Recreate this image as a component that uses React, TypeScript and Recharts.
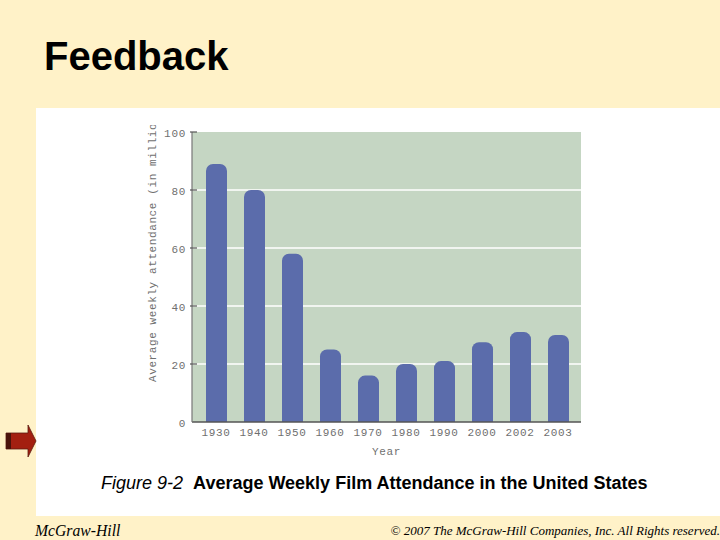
import { BarChart, Bar, XAxis, YAxis, CartesianGrid } from 'recharts';

const YEARS = ['1930', '1940', '1950', '1960', '1970', '1980', '1990', '2000', '2002', '2003'];
const ATTENDANCE = [89, 80, 58, 25, 16, 20, 21, 27.5, 31, 30];
const Y_TICKS = [0, 20, 40, 60, 80, 100];
const GRID_VALUES = [20, 40, 60, 80];

const data = YEARS.map((year, i) => ({ year, attendance: ATTENDANCE[i] }));

const CHART_FONT = '"Liberation Mono", monospace';
const CHART_TEXT = '#6f6f6f';
const SERIF = '"Liberation Serif", serif';

function YTick({ x, y, payload }: any) {
  return (
    <g>
      {payload.value > 0 && <line x1={x + 6} x2={x + 13} y1={y} y2={y} stroke="#555" strokeWidth={1.2} />}
      <text x={x + 2} y={y + 5} textAnchor="end" fontFamily={CHART_FONT} fontSize={11} letterSpacing={0.7} fill={CHART_TEXT}>
        {payload.value}
      </text>
    </g>
  );
}

function YLabel() {
  return (
    <text
      transform="rotate(-90 156 257)"
      x={156}
      y={257}
      fontFamily={CHART_FONT}
      fontSize={11}
      letterSpacing={0.6}
      fill={CHART_TEXT}
    >
      Average weekly attendance (in millions)
    </text>
  );
}

export default function App() {
  return (
    <div style={{ position: 'fixed', left: 0, top: 0, width: 720, height: 540, background: '#fff2c8', overflow: 'hidden' }}>
      <div style={{ position: 'absolute', left: 44, top: 33, fontFamily: '"Liberation Sans", sans-serif', fontWeight: 'bold', fontSize: 40, lineHeight: '46px', color: '#000' }}>
        Feedback
      </div>

      <div style={{ position: 'absolute', left: 36, top: 108, width: 684, height: 408, background: '#fff' }} />

      {/* top of the chart is cut off so the axis title gets clipped like the scan */}
      <div style={{ position: 'absolute', left: 0, top: 125 }}>
        <BarChart
          width={720}
          height={340}
          data={data}
          margin={{ top: 7, right: 139, bottom: 0, left: 140 }}
          barSize={21}
        >
          <CartesianGrid
            vertical={false}
            horizontalValues={GRID_VALUES}
            fill="#c5d6c3"
            stroke="#ffffff"
            strokeWidth={1.5}
          />
          <XAxis
            dataKey="year"
            height={43}
            padding={{ left: 5, right: 4 }}
            axisLine={{ stroke: '#555', strokeWidth: 1.5 }}
            tickLine={false}
            interval={0}
            tick={{ fontFamily: CHART_FONT, fontSize: 11, letterSpacing: 0.7, fill: CHART_TEXT }}
            tickMargin={0}
            label={{ value: 'Year', position: 'insideBottom', offset: 10, fontFamily: CHART_FONT, fontSize: 11, letterSpacing: 0.7, fill: CHART_TEXT }}
          />
          <YAxis
            width={52}
            domain={[0, 100]}
            ticks={Y_TICKS}
            axisLine={{ stroke: '#777', strokeWidth: 1.2 }}
            tickLine={false}
            tick={YTick}
            interval={0}
            label={<YLabel />}
          />
          <Bar dataKey="attendance" fill="#5b6cab" radius={[7, 7, 0, 0]} isAnimationActive={false} />
        </BarChart>
      </div>

      <svg width={40} height={40} style={{ position: 'absolute', left: 0, top: 422 }}>
        <polygon points="6,11 28,11 28,3 36,19 28,35 28,27 6,27" fill="#a31f10" stroke="#5a1a10" strokeWidth={0.8} />
        <rect x={6} y={11} width={5} height={16} fill="#4a120a" />
      </svg>

      <div style={{ position: 'absolute', left: 101, top: 472, fontFamily: '"Liberation Sans", sans-serif', fontSize: 18, lineHeight: '22px', whiteSpace: 'nowrap', color: '#000' }}>
        <i>Figure 9-2</i>
        <b style={{ marginLeft: 10 }}>Average Weekly Film Attendance in the United States</b>
      </div>

      <div style={{ position: 'absolute', left: 35, top: 522, fontFamily: SERIF, fontStyle: 'italic', fontSize: 15.7, lineHeight: '18px', color: '#000' }}>
        McGraw-Hill
      </div>
      <div style={{ position: 'absolute', right: 0, top: 523, fontFamily: SERIF, fontStyle: 'italic', fontSize: 13, lineHeight: '16px', whiteSpace: 'nowrap', color: '#000' }}>
        © 2007 The McGraw-Hill Companies, Inc. All Rights reserved.
      </div>
    </div>
  );
}
